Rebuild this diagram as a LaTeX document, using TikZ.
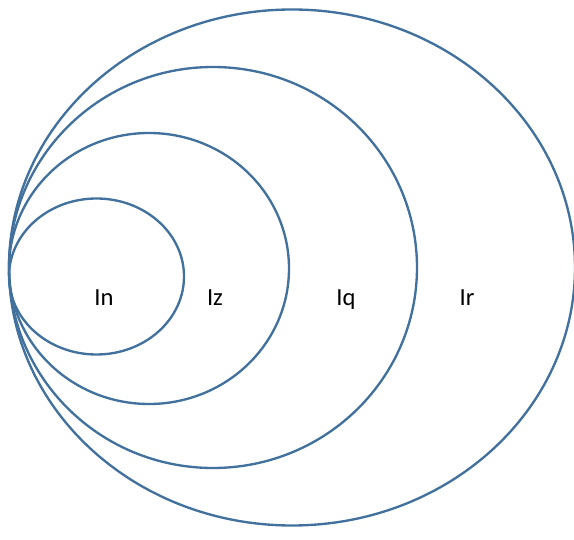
\documentclass[tikz,border=0pt]{standalone}
\usepackage{fontspec}
\setmainfont{Carlito}
\usepackage{tikz}
\usetikzlibrary{positioning}
\definecolor{ringcolor}{RGB}{65,113,156}

\begin{document}
\begin{tikzpicture}[
    x=0.03cm, y=-0.03cm,
    ring/.style={draw=ringcolor, line width=2pt},
    lbl/.style={font=\fontsize{21}{25}\selectfont, inner sep=0pt, anchor=base}
  ]
  \useasboundingbox (0,0) rectangle (574,540);

  % Ellipses, all touching at the left
  \draw[ring] (96.5,276.5) ellipse [x radius=87.5, y radius=78];
  \draw[ring] (149,268.5)  ellipse [x radius=140,  y radius=135.5];
  \draw[ring] (213,267.5)  ellipse [x radius=204,  y radius=200.5];
  \draw[ring] (292,267.5)  ellipse [x radius=283,  y radius=258];

  % Labels
  \node[lbl] (in) at (104,306) {In};
  \node[lbl] (iz) at (215,306) {Iz};
  \node[lbl] (iq) at (346,306) {Iq};
  \node[lbl] (ir) at (467,306) {Ir};
\end{tikzpicture}
\end{document}
